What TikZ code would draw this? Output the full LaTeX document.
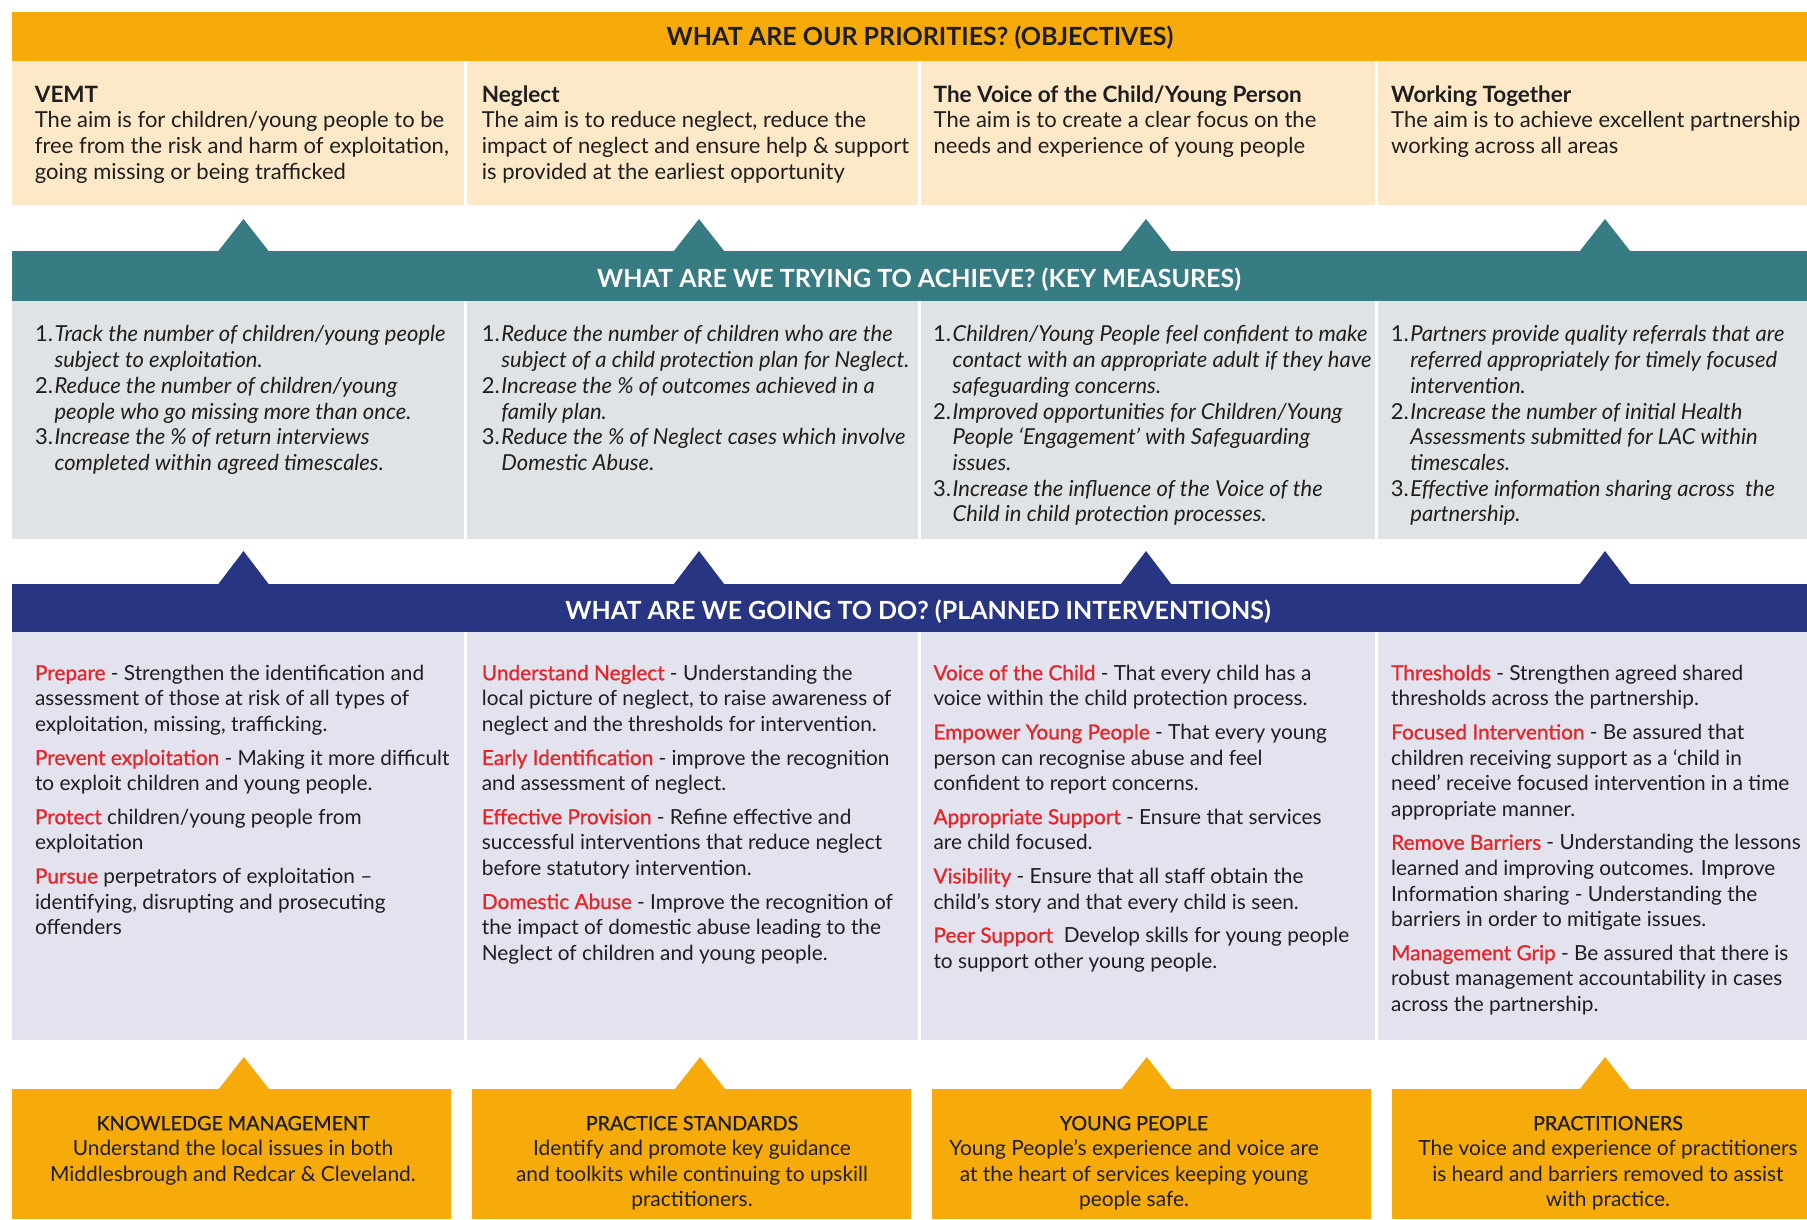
\documentclass[tikz,border=0pt]{standalone}
\usepackage{fontspec}
\setmainfont{Lato}
\newfontfamily\semib{Lato}[FakeBold=1]
\definecolor{orangeC}{HTML}{F7AB0A}
\definecolor{beigeC}{HTML}{FDE8C8}
\definecolor{tealC}{HTML}{377B83}
\definecolor{greyC}{HTML}{DFE3E6}
\definecolor{navyC}{HTML}{283583}
\definecolor{lavC}{HTML}{E3E3F0}
\definecolor{redC}{HTML}{E52629}
\definecolor{inkC}{HTML}{1E1E1E}
\newcommand\redkw[1]{{\semib\color{redC}#1}}
\newcommand\lnum[1]{\hbox to 19.5pt{\upshape #1\hss}}
\newcommand\lind{\hbox to 19.5pt{\hss}}
\newcommand\btitle[1]{{\fontsize{22.5}{25.6}\selectfont\bfseries #1}}
\newcommand\boxtitle[1]{{\fontsize{19.7}{25.5}\selectfont\semib #1}}
\tikzset{
  hdr/.style={anchor=base, inner sep=0pt, text=white, font=\fontsize{25}{30}\selectfont\bfseries},
  beigetxt/.style={anchor=north west, inner sep=0pt, align=left, text=inkC, font=\fontsize{22}{25.6}\selectfont},
  greytxt/.style={anchor=north west, inner sep=0pt, align=left, text=inkC, font=\fontsize{22}{25.7}\selectfont\itshape},
  lavtxt/.style={anchor=north west, inner sep=0pt, align=left, text=inkC, font=\fontsize{20.8}{25.6}\selectfont},
  boxtxt/.style={anchor=north, inner sep=0pt, align=center, text=inkC, font=\fontsize{20.9}{25.5}\selectfont}
}
\begin{document}
\begin{tikzpicture}[x=1pt,y=-1pt]
\useasboundingbox (0,0) rectangle (1807,1219);
\fill[white] (0,0) rectangle (1807,1219);
% bands
\fill[orangeC] (11.5,11.5) rectangle (1807,60.5);
\fill[tealC] (11.5,251) rectangle (1807,301);
\fill[navyC] (11.5,584) rectangle (1807,632);
% column panels
\foreach \a/\b in {11.5/463.5, 466.5/917.5, 920.5/1375, 1378/1807}{
  \fill[beigeC] (\a,60.5) rectangle (\b,205);
  \fill[greyC] (\a,301) rectangle (\b,538.5);
  \fill[lavC] (\a,632) rectangle (\b,1040);
}
% triangles
\foreach \c in {243.5, 699, 1146, 1605}{
  \fill[tealC] (\c-25.5,251.5) -- (\c,219) -- (\c+25.5,251.5) -- cycle;
  \fill[navyC] (\c-25.5,584.5) -- (\c,551) -- (\c+25.5,584.5) -- cycle;
}
% bottom boxes
\foreach \a/\b/\c in {11.5/451/243.8, 471.5/911/700, 932/1370.5/1146.7, 1391.5/1807/1605}{
  \fill[orangeC] (\a,1089) rectangle (\b,1219);
  \fill[orangeC] (\c-25.5,1089.5) -- (\c,1057) -- (\c+25.5,1089.5) -- cycle;
}
% headers
\node[hdr,text=inkC] (h1) at (920,45) {WHAT ARE OUR PRIORITIES? (OBJECTIVES)};
\node[hdr] (h2) at (919,287) {WHAT ARE WE TRYING TO ACHIEVE? (KEY MEASURES)};
\node[hdr] (h3) at (918,619) {WHAT ARE WE GOING TO DO? (PLANNED INTERVENTIONS)};
% objectives
\node[beigetxt] (o1) at (34.7,84.1) {\strut\btitle{VEMT}\\
The aim is for children/young people to be\\
free from the risk and harm of exploitation,\\
going missing or being trafficked};
\node[beigetxt] (o2) at (481.7,84.1) {\strut\btitle{Neglect}\\
The aim is to reduce neglect, reduce the\\
impact of neglect and ensure help \& support\\
is provided at the earliest opportunity};
\node[beigetxt] (o3) at (933.5,84.1) {\strut\btitle{The Voice of the Child/Young Person}\\
The aim is to create a clear focus on the\\
needs and experience of young people};
\node[beigetxt] (o4) at (1391,84.1) {\strut\btitle{Working Together}\\
The aim is to achieve excellent partnership\\
working across all areas};
% key measures
\node[greytxt] (m1) at (34.8,323.7) {\strut\lnum{1.}Track the number of children/young people\\
\lind subject to exploitation.\\
\lnum{2.}Reduce the number of children/young\\
\lind people who go missing more than once.\\
\lnum{3.}Increase the \% of return interviews\\
\lind completed within agreed timescales.};
\node[greytxt] (m2) at (481.7,323.7) {\strut\lnum{1.}Reduce the number of children who are the\\
\lind subject of a child protection plan for Neglect.\\
\lnum{2.}Increase the \% of outcomes achieved in a\\
\lind family plan.\\
\lnum{3.}Reduce the \% of Neglect cases which involve\\
\lind Domestic Abuse.};
\node[greytxt] (m3) at (933,323.7) {\strut\lnum{1.}Children/Young People feel confident to make\\
\lind contact with an appropriate adult if they have\\
\lind safeguarding concerns.\\
\lnum{2.}Improved opportunities for Children/Young\\
\lind People ‘Engagement’ with Safeguarding\\
\lind issues.\\
\lnum{3.}Increase the influence of the Voice of the\\
\lind Child in child protection processes.};
\node[greytxt] (m4) at (1390.7,323.7) {\strut\lnum{1.}Partners provide quality referrals that are\\
\lind referred appropriately for timely focused\\
\lind intervention.\\
\lnum{2.}Increase the number of initial Health\\
\lind Assessments submitted for LAC within\\
\lind timescales.\\
\lnum{3.}Effective information sharing across~ the\\
\lind partnership.};
% interventions
\node[lavtxt] (i1) at (34.8,662.1) {\strut\redkw{Prepare} - Strengthen the identification and\\
assessment of those at risk of all types of\\
exploitation, missing, trafficking.\\[8pt]
\redkw{Prevent exploitation} - Making it more difficult\\
to exploit children and young people.\\[8pt]
\redkw{Protect} children/young people from\\
exploitation\\[8pt]
\redkw{Pursue} perpetrators of exploitation –\\
identifying, disrupting and prosecuting\\
offenders};
\node[lavtxt] (i2) at (481.7,662.1) {\strut\redkw{Understand Neglect} - Understanding the\\
local picture of neglect, to raise awareness of\\
neglect and the thresholds for intervention.\\[8pt]
\redkw{Early Identification} - improve the recognition\\
and assessment of neglect.\\[8pt]
\redkw{Effective Provision} - Refine effective and\\
successful interventions that reduce neglect\\
before statutory intervention.\\[8pt]
\redkw{Domestic Abuse} - Improve the recognition of\\
the impact of domestic abuse leading to the\\
Neglect of children and young people.};
\node[lavtxt] (i3) at (933.3,662.1) {\strut\redkw{Voice of the Child} - That every child has a\\
voice within the child protection process.\\[8pt]
\redkw{Empower Young People} - That every young\\
person can recognise abuse and feel\\
confident to report concerns.\\[8pt]
\redkw{Appropriate Support} - Ensure that services\\
are child focused.\\[8pt]
\redkw{Visibility} - Ensure that all staff obtain the\\
child’s story and that every child is seen.\\[8pt]
\redkw{Peer Support}~ Develop skills for young people\\
to support other young people.};
\node[lavtxt] (i4) at (1391,662.1) {\strut\redkw{Thresholds} - Strengthen agreed shared\\
thresholds across the partnership.\\[8pt]
\redkw{Focused Intervention} - Be assured that\\
children receiving support as a ‘child in\\
need’ receive focused intervention in a time\\
appropriate manner.\\[8pt]
\redkw{Remove Barriers} - Understanding the lessons\\
learned and improving outcomes. Improve\\
Information sharing - Understanding the\\
barriers in order to mitigate issues.\\[8pt]
\redkw{Management Grip} - Be assured that there is\\
robust management accountability in cases\\
across the partnership.};
% bottom boxes text
\node[boxtxt] (b1) at (233,1112.15) {\strut\boxtitle{KNOWLEDGE MANAGEMENT}\\
Understand the local issues in both\\
Middlesbrough and Redcar \& Cleveland.};
\node[boxtxt] (b2) at (692,1112.15) {\strut\boxtitle{PRACTICE STANDARDS}\\
Identify and promote key guidance\\
and toolkits while continuing to upskill\\
practitioners.};
\node[boxtxt] (b3) at (1134,1112.15) {\strut\boxtitle{YOUNG PEOPLE}\\
Young People’s experience and voice are\\
at the heart of services keeping young\\
people safe.};
\node[boxtxt] (b4) at (1608,1112.15) {\strut\boxtitle{PRACTITIONERS}\\
The voice and experience of practitioners\\
is heard and barriers removed to assist\\
with practice.};
\end{tikzpicture}
\end{document}
